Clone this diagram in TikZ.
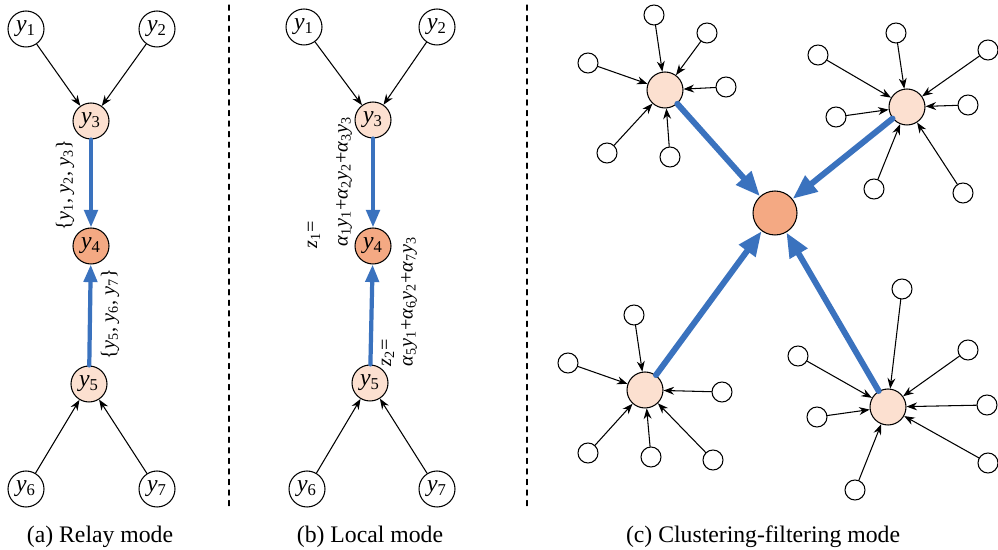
\documentclass[tikz,border=0pt]{standalone}
\usepackage{fontspec}
\setmainfont{Liberation Serif}
\usepackage{xcolor}
\usetikzlibrary{arrows.meta}
\definecolor{hubfill}{HTML}{FCE0D0}
\definecolor{sinkfill}{HTML}{F4A983}
\definecolor{flow}{HTML}{3A72BE}
% italic letter with a subscript, set in the text font
\newcommand{\vy}[1]{\textit{y}\textsubscript{#1}}
\newcommand{\vz}[1]{\textit{z}\textsubscript{#1}}
\newcommand{\wa}[1]{\textit{α}\textsubscript{#1}}
\tikzset{
  var/.style={circle, draw, line width=0.6pt, fill=white, inner sep=0pt,
    minimum size=0.72cm, font=\fontsize{13.5}{15}\selectfont},
  hub/.style={var, fill=hubfill},
  sink/.style={var, fill=sinkfill},
  leaf/.style={circle, draw, line width=0.6pt, fill=white, inner sep=0pt,
    minimum size=0.4cm},
  feed/.style={line width=0.6pt, -{Stealth[length=6pt,width=4.5pt]}},
  relay/.style={draw=flow, line width=2.4pt, -{Triangle[length=10pt,width=7.5pt]}},
  merge/.style={draw=flow, line width=3.4pt, -{Triangle[length=14pt,width=11pt]}},
  setlabel/.style={rotate=90, inner sep=0pt, font=\fontsize{11.5}{14}\selectfont},
  caption/.style={font=\fontsize{13.5}{16}\selectfont}
}

\begin{document}
\begin{tikzpicture}[x=0.02cm, y=-0.02cm, line cap=round, line join=round]
  \useasboundingbox (0,0) rectangle (998,550);

  % (a) relay mode
  \node[var] (a1) at (26,29) {\vy{1}};
  \node[var] (a2) at (157,29) {\vy{2}};
  \node[hub] (a3) at (91,121) {\vy{3}};
  \node[sink] (a4) at (91,246) {\vy{4}};
  \node[hub] (a5) at (89,384) {\vy{5}};
  \node[var] (a6) at (26,489) {\vy{6}};
  \node[var] (a7) at (157,489) {\vy{7}};
  \draw[feed] (a1) -- (a3);
  \draw[feed] (a2) -- (a3);
  \draw[feed] (a6) -- (a5);
  \draw[feed] (a7) -- (a5);
  \draw[relay] (a3) -- (a4);
  \draw[relay] (a5) -- (a4);
  \node[setlabel] (aup) at (65,185) {\{\vy{1}, \vy{2}, \vy{3}\}};
  \node[setlabel] (adown) at (110,314) {\{\vy{5}, \vy{6}, \vy{7}\}};
  \node[caption] (acap) at (100,537) {(a) Relay mode};

  \draw[dashed, line width=0.6pt] (229,5) -- (229,510);

  % (b) local mode
  \node[var] (b1) at (304,27) {\vy{1}};
  \node[var] (b2) at (437,27) {\vy{2}};
  \node[hub] (b3) at (373,120) {\vy{3}};
  \node[sink] (b4) at (373,246) {\vy{4}};
  \node[hub] (b5) at (370,383) {\vy{5}};
  \node[var] (b6) at (307,489) {\vy{6}};
  \node[var] (b7) at (437,489) {\vy{7}};
  \draw[feed] (b1) -- (b3);
  \draw[feed] (b2) -- (b3);
  \draw[feed] (b6) -- (b5);
  \draw[feed] (b7) -- (b5);
  \draw[relay] (b3) -- (b4);
  \draw[relay] (b5) -- (b4);
  \node[setlabel, anchor=west] (zup) at (314,249) {\vz{1}=};
  \node[setlabel, anchor=west] (sumup) at (344,247) {\wa{1}\vy{1}+\wa{2}\vy{2}+\wa{3}\vy{3}};
  \node[setlabel, anchor=west] (zdown) at (388,367) {\vz{2}=};
  \node[setlabel, anchor=west] (sumdown) at (409,367) {\wa{5}\vy{1}+\wa{6}\vy{2}+\wa{7}\vy{3}};
  \node[caption] (bcap) at (370,537) {(b) Local mode};

  \draw[dashed, line width=0.6pt] (527,5) -- (527,510);

  % (c) clustering-filtering mode
  \node[sink, minimum size=0.88cm] (core) at (775,213) {};
  \node[hub] (nw) at (665,90) {};
  \node[hub] (ne) at (907,107) {};
  \node[hub] (sw) at (645,390) {};
  \node[hub] (se) at (888,407) {};
  \foreach \p [count=\i] in {(654,15),(707,33),(588,63),(726,87),(607,153),(670,157)}
    {\node[leaf] (nw\i) at \p {}; \draw[feed] (nw\i) -- (nw);}
  \foreach \p [count=\i] in {(896,33),(988,50),(818,55),(968,105),(836,117),(874,189),(963,193)}
    {\node[leaf] (ne\i) at \p {}; \draw[feed] (ne\i) -- (ne);}
  \foreach \p [count=\i] in {(634,315),(568,363),(722,392),(588,453),(651,457),(713,460)}
    {\node[leaf] (sw\i) at \p {}; \draw[feed] (sw\i) -- (sw);}
  \foreach \p [count=\i] in {(902,289),(798,356),(968,350),(817,417),(987,405),(988,463),(855,490)}
    {\node[leaf] (se\i) at \p {}; \draw[feed] (se\i) -- (se);}
  \foreach \h in {nw,ne,sw,se}
    \draw[merge] (\h) -- (core);
  \node[caption] (ccap) at (763,537) {(c) Clustering-filtering mode};
\end{tikzpicture}
\end{document}
